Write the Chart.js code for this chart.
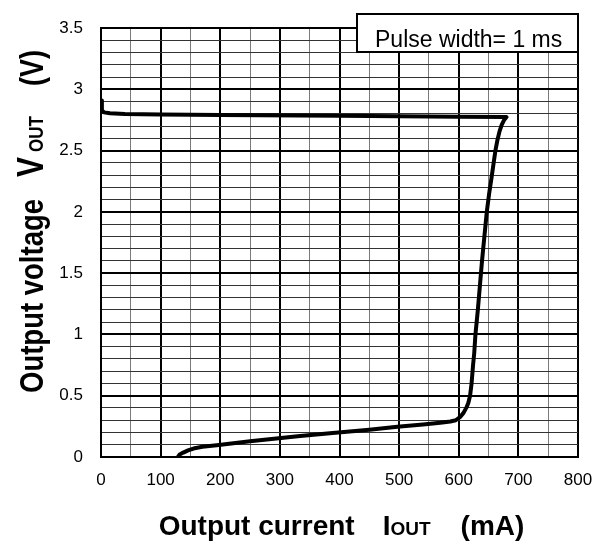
<!DOCTYPE html>
<html>
<head>
<meta charset="utf-8">
<script src="https://cdn.jsdelivr.net/npm/chart.js@4"></script>
<style>
  html, body { margin: 0; padding: 0; background: #fff; }
  #wrap { width: 606px; height: 544px; position: relative; }
</style>
</head>
<body>
<div id="wrap"><canvas id="chart" width="606" height="544"></canvas></div>
<script>
// curve: output current (mA) vs output voltage (V), in drawing order
const currentMA = [129, 132, 138, 146, 155, 170, 194, 250, 334, 384, 450, 497, 540, 569, 586, 595, 602, 608, 613, 616, 619,
  621.5, 624, 626, 628, 632, 635.5, 639, 643, 647, 651, 655, 658.5, 661.5, 665, 668.5, 672, 676, 680,
  600, 400, 200, 100, 40, 15, 5, 1.5, 1.5];
const voltageV = [0, 0.02, 0.036, 0.054, 0.069, 0.083, 0.096, 0.128, 0.172, 0.193, 0.223, 0.247, 0.266, 0.279, 0.29, 0.3, 0.325, 0.36, 0.405, 0.44, 0.5,
  0.6, 0.75, 0.85, 1.0, 1.2, 1.4, 1.6, 1.8, 2.0, 2.15, 2.28, 2.4, 2.5, 2.59, 2.66, 2.71, 2.75, 2.775,
  2.778, 2.785, 2.792, 2.796, 2.8, 2.805, 2.813, 2.83, 2.91];

const xMin = 0, xMax = 800, xStep = 50, xLabelStep = 100;
const yMin = 0, yMax = 3.5, yStep = 0.1, yLabelStep = 0.5;

const noteText = 'Pulse width= 1 ms';
const xTitleParts = ['Output current', 'I', 'OUT', '(mA)'];
const yTitleParts = ['Output voltage', 'V', 'OUT', '(V)'];

const points = currentMA.map((x, i) => ({ x: x, y: voltageV[i] }));

function isMajor(v, step) {
  const r = v / step;
  return Math.abs(r - Math.round(r)) < 1e-6;
}

// draws the axis titles and the pulse width box
const extrasPlugin = {
  id: 'extras',
  afterDatasetsDraw(chart) {
    const ctx = chart.ctx;
    const area = chart.chartArea;
    ctx.save();
    // note box
    const bx = 357, by = 13, bw = area.right - 357, bh = 39;
    ctx.fillStyle = '#fff';
    ctx.fillRect(bx, by, bw, bh);
    ctx.strokeStyle = '#000';
    ctx.lineWidth = 2;
    ctx.strokeRect(bx, by + 1, bw, bh - 1);
    ctx.fillStyle = '#000';
    ctx.font = '23px "Liberation Sans", Arial, sans-serif';
    ctx.textBaseline = 'alphabetic';
    ctx.textAlign = 'left';
    ctx.fillText(noteText, 375, 47);
    ctx.restore();
  },
  afterDraw(chart) {
    const ctx = chart.ctx;
    const area = chart.chartArea;
    const fam = '"Liberation Sans", Arial, sans-serif';

    // x title
    const xSizes = [28, 28, 19, 28];
    const xGaps = [0, 28, 0, 30];
    ctx.save();
    ctx.fillStyle = '#000';
    ctx.textBaseline = 'alphabetic';
    ctx.textAlign = 'left';
    let total = 0;
    const xw = xTitleParts.map((t, i) => {
      ctx.font = 'bold ' + xSizes[i] + 'px ' + fam;
      const w = ctx.measureText(t).width;
      total += w + xGaps[i];
      return w;
    });
    let x = (area.left + area.right) / 2 + 2 - total / 2;
    xTitleParts.forEach((t, i) => {
      x += xGaps[i];
      ctx.font = 'bold ' + xSizes[i] + 'px ' + fam;
      ctx.fillText(t, x, 535);
      x += xw[i];
    });
    ctx.restore();

    // y title, rotated and a bit taller than wide
    const ySizes = [27.5, 30, 17, 27];
    const yGaps = [0, 22, 5, 30];
    ctx.save();
    ctx.fillStyle = '#000';
    ctx.textBaseline = 'alphabetic';
    ctx.textAlign = 'left';
    ctx.translate(43, 393);
    ctx.rotate(-Math.PI / 2);
    ctx.scale(1, 1.22);
    let p = 0;
    yTitleParts.forEach((t, i) => {
      p += yGaps[i];
      ctx.font = 'bold ' + ySizes[i] + 'px ' + fam;
      ctx.fillText(t, p, 0);
      p += ctx.measureText(t).width;
    });
    ctx.restore();
  }
};

const tickFont = { family: '"Liberation Sans", Arial, sans-serif', size: 17 };

new Chart(document.getElementById('chart').getContext('2d'), {
  type: 'scatter',
  data: {
    datasets: [{
      data: points,
      showLine: true,
      borderColor: '#000',
      borderWidth: 4,
      pointRadius: 0,
      tension: 0,
      fill: false,
      borderJoinStyle: 'round',
      borderCapStyle: 'round'
    }]
  },
  options: {
    responsive: false,
    animation: false,
    layout: { padding: { top: 14, right: 28, left: 0, bottom: 0 } },
    plugins: { legend: { display: false }, tooltip: { enabled: false } },
    scales: {
      x: {
        type: 'linear',
        min: xMin, max: xMax,
        afterFit(s) { s.height = 87; },
        border: { display: true, color: '#000', width: 2 },
        grid: {
          drawTicks: false,
          color: c => (c.tick && isMajor(c.tick.value, xLabelStep)) ? '#000' : '#7a7a7a',
          lineWidth: c => (c.tick && isMajor(c.tick.value, xLabelStep)) ? 2 : 1
        },
        ticks: {
          stepSize: xStep,
          autoSkip: false,
          maxRotation: 0,
          padding: 13,
          color: '#000',
          font: tickFont,
          callback: v => isMajor(v, xLabelStep) ? String(v) : ''
        }
      },
      y: {
        type: 'linear',
        min: yMin, max: yMax,
        afterFit(s) { s.width = 101; },
        border: { display: true, color: '#000', width: 2 },
        grid: {
          drawTicks: false,
          color: c => (c.tick && isMajor(c.tick.value, yLabelStep)) ? '#000' : '#333',
          lineWidth: c => (c.tick && isMajor(c.tick.value, yLabelStep)) ? 2 : 1
        },
        ticks: {
          stepSize: yStep,
          autoSkip: false,
          padding: 18,
          color: '#000',
          font: tickFont,
          callback: v => isMajor(v, yLabelStep) ? String(Math.round(v * 10) / 10) : ''
        }
      }
    }
  },
  plugins: [extrasPlugin]
});
</script>
</body>
</html>
